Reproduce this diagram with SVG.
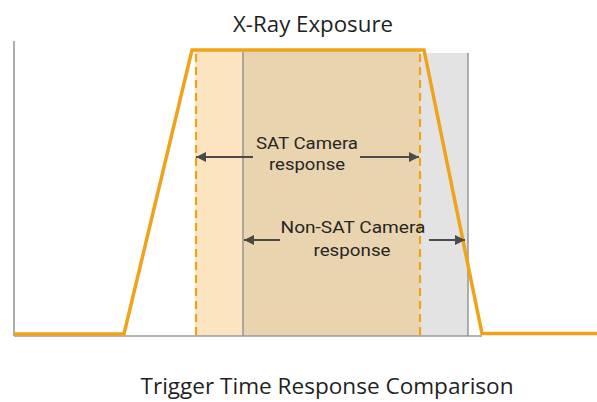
<svg xmlns="http://www.w3.org/2000/svg" width="597" height="402" viewBox="0 0 597 402">
<style>
.title{font-family:"Open Sans","Liberation Sans",sans-serif;fill:#1f1f1f}
.lbl{font-family:"Roboto","Liberation Sans",sans-serif;font-size:17px;font-weight:400;fill:#262626;text-anchor:middle}
.axis{stroke:#9a9a9a;stroke-width:1.6;fill:none}
.dash{stroke:#f0a31a;stroke-width:2.2;stroke-dasharray:8 5;fill:none}
.arr{stroke:#4a4a4a;stroke-width:2;fill:none}
</style>
<defs>
<marker id="ah" viewBox="0 0 10 10" refX="10" refY="5" markerWidth="5.5" markerHeight="5" orient="auto" markerUnits="strokeWidth">
<path d="M0,0 L10,5 L0,10 z" fill="#4a4a4a"/>
</marker>
</defs>
<rect width="597" height="402" fill="#ffffff"/>
<g id="regions">
<rect x="195" y="50" width="48" height="286" fill="#fbe4bf"/>
<rect x="243" y="50" width="177" height="286" fill="#ead4b0"/>
<rect x="420" y="53" width="48" height="283" fill="#e3e3e3"/>
<line class="axis" x1="243" y1="50" x2="243" y2="336"/>
<line class="axis" x1="468" y1="53" x2="468" y2="336"/>
<line class="dash" x1="196" y1="54" x2="196" y2="336"/>
<line class="dash" x1="420" y1="54" x2="420" y2="336"/>
</g>
<g id="axes">
<line class="axis" x1="14" y1="41" x2="14" y2="336"/>
<line class="axis" x1="14" y1="336" x2="482" y2="336"/>
</g>
<g id="exposure">
<polyline points="14,334 124,334 192,50 424,50 482,333.5 597,333.5" fill="none" stroke="#f0a31a" stroke-width="3.5" stroke-linejoin="miter"/>
</g>
<g id="connectors">
<line class="arr" x1="253" y1="157" x2="196" y2="157" marker-end="url(#ah)"/>
<line class="arr" x1="360" y1="157" x2="419" y2="157" marker-end="url(#ah)"/>
<line class="arr" x1="280" y1="240" x2="244" y2="240" marker-end="url(#ah)"/>
<line class="arr" x1="429" y1="240" x2="465" y2="240" marker-end="url(#ah)"/>
</g>
<g id="sat-label">
<text class="lbl" x="307" y="149" textLength="102" lengthAdjust="spacingAndGlyphs">SAT Camera</text>
<text class="lbl" x="307" y="170" textLength="76" lengthAdjust="spacingAndGlyphs">response</text>
</g>
<g id="nonsat-label">
<text class="lbl" x="353" y="233" textLength="145" lengthAdjust="spacingAndGlyphs">Non-SAT Camera</text>
<text class="lbl" x="352" y="256" textLength="77" lengthAdjust="spacingAndGlyphs">response</text>
</g>
<g id="titles">
<text class="title" x="313" y="32" font-size="21" text-anchor="middle" textLength="160" lengthAdjust="spacingAndGlyphs">X-Ray Exposure</text>
<text class="title" x="327" y="394" font-size="22" text-anchor="middle" textLength="373" lengthAdjust="spacingAndGlyphs">Trigger Time Response Comparison</text>
</g>
</svg>
